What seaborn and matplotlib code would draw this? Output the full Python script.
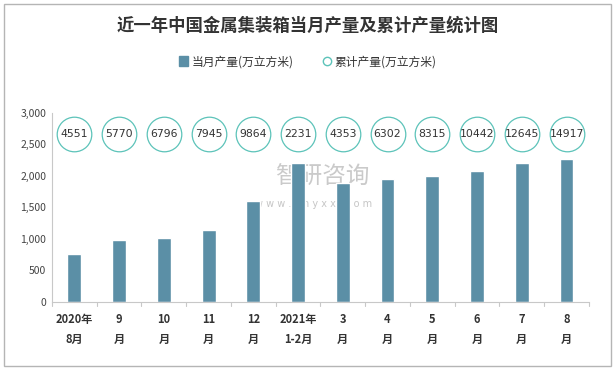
import matplotlib
matplotlib.use("Agg")
import matplotlib.pyplot as plt
import seaborn as sns
import pandas as pd
from matplotlib.lines import Line2D
from matplotlib.patches import Patch, Rectangle

categories = ["2020年\n8月", "9\n月", "10\n月", "11\n月", "12\n月", "2021年\n1-2月",
              "3\n月", "4\n月", "5\n月", "6\n月", "7\n月", "8\n月"]
monthly = [760, 980, 1015, 1140, 1600, 2210, 1885, 1945, 2005, 2085, 2210, 2260]
cumulative = [4551, 5770, 6796, 7945, 9864, 2231, 4353, 6302, 8315, 10442, 12645, 14917]
yticks = [0, 500, 1000, 1500, 2000, 2500, 3000]

sns.set_theme(style="white")
plt.rcParams['font.family'] = ['Noto Sans CJK SC', 'DejaVu Sans']

bar_color = "#5B8FA6"
circ_color = "#5CC3B9"

fig = plt.figure(figsize=(6.16, 3.70), dpi=100)
ax = fig.add_axes([0.0844, 0.184, 0.8716, 0.511])

df = pd.DataFrame({"cat": categories, "val": monthly})
sns.barplot(data=df, x="cat", y="val", color=bar_color, width=0.31, ax=ax,
            saturation=1, order=categories)

# cumulative circles
circ_y = 2670
xs = list(range(len(categories)))
ax.scatter(xs, [circ_y] * len(xs), s=620, facecolor="white", edgecolor=circ_color,
           linewidth=0.9, zorder=3, clip_on=False)
for x, v in zip(xs, cumulative):
    ax.text(x, circ_y, str(v), ha="center", va="center", fontsize=7.8,
            color="#333333", zorder=4, family=['DejaVu Sans'])

ax.set_ylim(0, 3000)
ax.set_xlim(-0.5, len(categories) - 0.5)
ax.set_yticks(yticks)
ax.set_yticklabels([f"{t:,}" for t in yticks], fontsize=7.5, color="#444444")
ax.set_xticks(xs)
ax.set_xticklabels(categories, fontsize=8, fontweight="bold", color="#333333",
                   linespacing=1.7)
ax.tick_params(axis="x", length=0, pad=8)
ax.tick_params(axis="y", length=0, pad=4)
# boundary tick marks
for b in [i - 0.5 for i in range(len(categories) + 1)]:
    ax.plot([b, b], [0, -60], color="#C8C8C8", lw=0.8, clip_on=False, zorder=1)
ax.set_xlabel("")
ax.set_ylabel("")
for s in ["top", "right"]:
    ax.spines[s].set_visible(False)
ax.spines["left"].set_color("#C8C8C8")
ax.spines["bottom"].set_color("#C8C8C8")
ax.spines["left"].set_linewidth(0.8)
ax.spines["bottom"].set_linewidth(0.8)

# watermark
ax.text(5.55, 1980, "智研咨询", fontsize=17, color="#BDBDBD", alpha=0.8,
        ha="center", va="center", zorder=0.5)
ax.text(5.35, 1560, "w w w . c h y x x . c o m", fontsize=7, color="#C6C6C6",
        ha="center", va="center", zorder=0.5, family=['DejaVu Sans'])

fig.text(0.5, 0.932, "近一年中国金属集装箱当月产量及累计产量统计图", ha="center",
         va="center", fontsize=12.5, fontweight="bold", color="#333333")

handles = [Patch(facecolor=bar_color, edgecolor=bar_color, label="当月产量(万立方米)"),
           Line2D([0], [0], marker="o", linestyle="", markerfacecolor="white",
                  markeredgecolor=circ_color, markersize=6, label="累计产量(万立方米)")]
fig.legend(handles=handles, loc="center", bbox_to_anchor=(0.5, 0.833), ncol=2,
           frameon=False, fontsize=8.5, handlelength=0.7, handleheight=0.9,
           handletextpad=0.3, columnspacing=2.5, labelcolor="#333333")

fig.patches.append(Rectangle((0.007, 0.01), 0.985, 0.98, transform=fig.transFigure,
                             fill=False, edgecolor="#B5B5B5", linewidth=1.0))

fig.savefig("out.png", dpi=100, facecolor="white")
